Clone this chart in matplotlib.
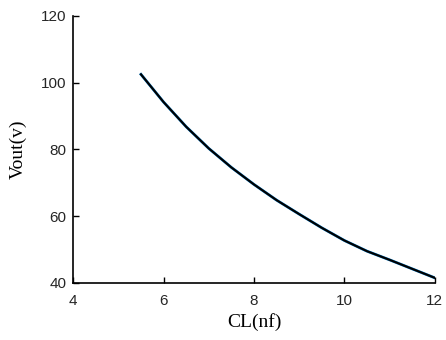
import numpy as np
import matplotlib.pyplot as plt

cl = [5.5, 6.0, 6.5, 7.0, 7.5, 8.0, 8.5, 9.0, 9.5, 10.0, 10.5, 11.0, 11.5, 12.0]
vout = [102.5, 94.2, 86.8, 80.3, 74.6, 69.5, 64.8, 60.6, 56.5, 52.7, 49.5, 46.9, 44.2, 41.5]

xticks = [4, 6, 8, 10, 12]
yticks = [40, 60, 80, 100, 120]


def main():
    fig = plt.figure(figsize=(4.46, 3.40), dpi=100)
    ax = fig.add_axes([0.164, 0.168, 0.811, 0.785])

    # blue trace under the black one
    ax.plot(cl, vout, color='#0072BD', lw=2.0)
    ax.plot(cl, vout, color='black', lw=1.5)

    ax.set_xlim(4, 12)
    ax.set_ylim(40, 120)
    ax.set_xticks(xticks)
    ax.set_yticks(yticks)

    for side in ['top', 'right']:
        ax.spines[side].set_visible(False)
    for side in ['left', 'bottom']:
        ax.spines[side].set_linewidth(1.2)
        ax.spines[side].set_color('black')

    ax.tick_params(direction='in', length=4, width=1.0, colors='black',
                   labelcolor='#262626', labelsize=11)
    ax.tick_params(axis='x', pad=8)
    ax.tick_params(axis='y', pad=5)
    for lbl in ax.get_xticklabels() + ax.get_yticklabels():
        lbl.set_family('Liberation Sans')

    ax.set_xlabel('CL(nf)', family='Liberation Serif', fontsize=14, labelpad=4)
    ax.set_ylabel('Vout(v)', family='Liberation Serif', fontsize=14, labelpad=10)

    plt.savefig('out.png')


main()
